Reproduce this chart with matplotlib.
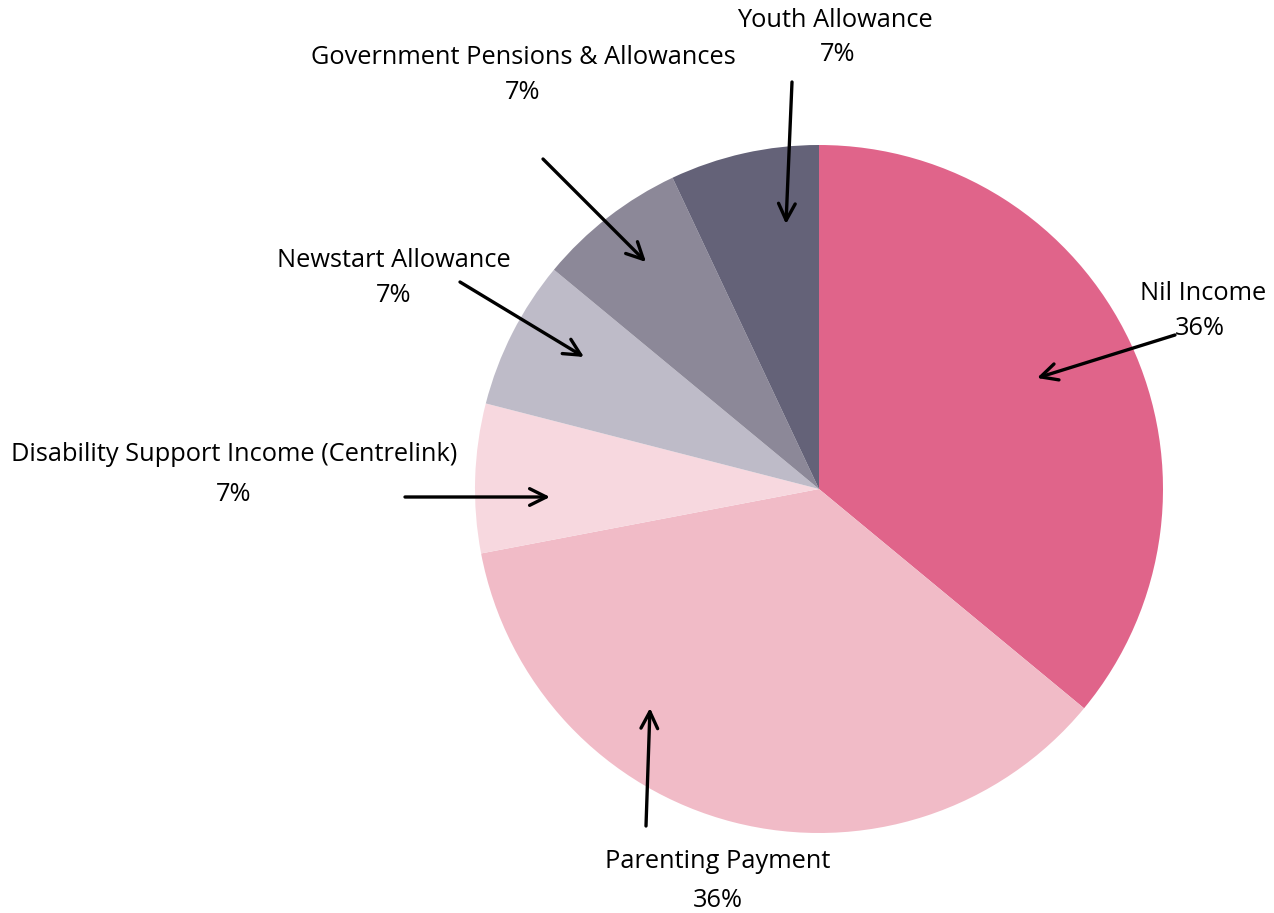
import matplotlib
matplotlib.use("Agg")
import matplotlib.pyplot as plt

labels = ["Nil Income", "Parenting Payment", "Disability Support Income (Centrelink)",
          "Newstart Allowance", "Government Pensions & Allowances", "Youth Allowance"]
values = [36, 36, 7, 7, 7, 7]
pct_labels = ["36%", "36%", "7%", "7%", "7%", "7%"]
colors = ["#E0648A", "#F1BBC7", "#F7D8DF", "#BEBBC8", "#8C8898", "#646278"]

W, H = 1274, 913
fig = plt.figure(figsize=(W / 100, H / 100), dpi=100)
ax = fig.add_axes([0, 0, 1, 1])

cx, cy, r = 819, H - 489, 344
ax.pie(values, colors=colors, startangle=90, counterclock=False,
       center=(cx, cy), radius=r, frame=True,
       wedgeprops=dict(linewidth=0))
ax.set_xlim(0, W)
ax.set_ylim(0, H)
ax.set_aspect("equal")
ax.axis("off")

# label text positions (pixel coords, y from top), arrow tail and head
text_pos = [(1203, 293), (718, 861), (234, 454), (394, 260), (523, 57), (835, 20)]
pct_pos = [(1200, 328), (718, 900), (234, 494), (394, 295), (523, 92), (838, 54)]
arrow_tail = [(1175, 335), (646, 826), (405, 497), (460, 282), (543, 159), (792, 82)]
arrow_head = [(1037, 378), (650, 708), (550, 497), (584, 357), (646, 262), (786, 224)]

fam = ["Open Sans", "DejaVu Sans"]
fs = 18.3
for lab, pct, tp, pp, at, ah in zip(labels, pct_labels, text_pos, pct_pos, arrow_tail, arrow_head):
    ax.text(tp[0], H - tp[1], lab, ha="center", va="center", fontsize=fs, family=fam, color="black")
    ax.text(pp[0], H - pp[1], pct, ha="center", va="center", fontsize=fs, family=fam, color="black")
    ax.annotate("", xy=(ah[0], H - ah[1]), xytext=(at[0], H - at[1]),
                arrowprops=dict(arrowstyle="->", color="black", lw=2.4,
                                mutation_scale=30, shrinkA=0, shrinkB=0))

fig.savefig("out.png", dpi=100)
